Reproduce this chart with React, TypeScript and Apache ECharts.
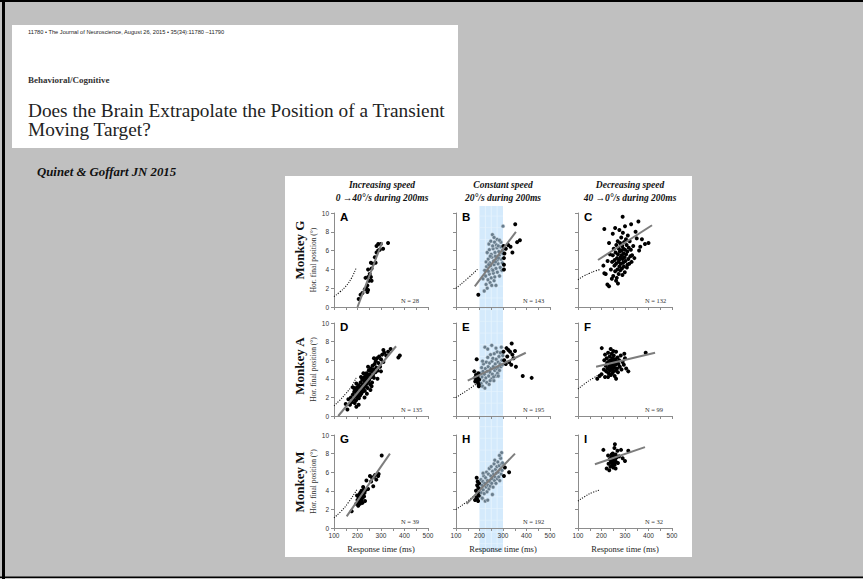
import React, { useEffect, useRef } from "react";
import * as echarts from "echarts";

// ---------- text content ----------
const journalLine = "11780 • The Journal of Neuroscience, August 26, 2015 • 35(34):11780 –11790";
const sectionLabel = "Behavioral/Cognitive";
const titleLines = ["Does the Brain Extrapolate the Position of a Transient", "Moving Target?"];
const citation = "Quinet & Goffart JN 2015";
const columnTitles = [
  ["Increasing speed", "0 →40°/s during 200ms"],
  ["Constant speed", "20°/s during 200ms"],
  ["Decreasing speed", "40 →0°/s during 200ms"],
];
const rowLabels = ["Monkey G", "Monkey A", "Monkey M"];
const yAxisTitle = "Hor. final position (°)";
const xAxisTitle = "Response time (ms)";
const panelLetters = ["A", "B", "C", "D", "E", "F", "G", "H", "I"];
const panelN = [28, 143, 132, 135, 195, 99, 39, 192, 32];
const bandRange = [200, 300];

// ---------- data: [response time (ms), final position (deg)] ----------
const A_black = [[205,0.85],[213,1.3],[221,1.5],[231,1.9],[238,2.0],[245,1.8],[242,1.6],[242,2.3],[249,2.8],[234,3.1],[245,3.2],[257,3.2],[260,2.8],[252,3.5],[245,4.0],[260,4.1],[266,4.6],[257,4.7],[277,4.7],[274,5.3],[281,5.8],[288,6.0],[295,6.1],[288,6.7],[299,6.7],[309,6.2],[330,6.8],[281,6.5]];
const A_fit = [[200,0],[305,6.9]];
const A_target = [[100,1.1],[125,1.6],[150,2.2],[175,3.1],[195,4.2]];

const B_black = [[195,1.3],[352,8.8],[372,7.1],[360,6.9],[340,5.8],[322,6.6],[332,6.4],[304,5.2],[304,4.5],[304,4.0],[312,6.2],[306,5.7],[302,6.5]];
const B_gray = [[220,1.7],[228,2.4],[233,2.0],[245,2.6],[252,2.3],[262,2.8],[270,2.3],[215,3.0],[226,3.3],[236,2.9],[242,3.5],[250,3.1],[259,3.6],[265,3.2],[276,3.7],[285,3.3],[295,3.9],[222,3.9],[230,4.3],[238,3.8],[247,4.4],[254,4.0],[262,4.5],[270,4.1],[279,4.6],[288,4.2],[297,4.7],[228,4.8],[237,5.1],[244,4.7],[253,5.3],[260,4.9],[268,5.4],[276,5.0],[284,5.5],[292,5.1],[299,5.7],[233,5.8],[242,6.1],[250,5.6],[258,6.2],[266,5.8],[274,6.3],[282,5.9],[290,6.4],[298,6.0],[240,6.7],[248,7.0],[256,6.5],[264,6.9],[272,6.6],[280,6.5],[291,6.9],[255,7.7],[275,7.2],[300,8.6],[285,7.1],[262,7.4],[246,5.4],[268,4.8],[281,5.2],[257,3.9],[239,4.5]];
const B_fit = [[180,2.2],[355,8.0]];
const B_target = [[100,2.0],[150,3.05],[195,4.1]];

const C_black = [[290,9.6],[357,9.1],[326,8.8],[212,8.3],[400,6.8],[385,6.7],[208,4.4],[212,3.6],[218,3.5],[225,2.4],[232,2.2],[345,8.0],[330,5.5],[360,6.0],[310,4.5],[240,4.0],[245,4.8],[248,5.5],[250,3.3],[252,6.2],[255,4.4],[256,5.0],[258,3.8],[260,5.8],[262,4.6],[263,6.6],[265,3.1],[266,5.2],[268,4.0],[269,7.0],[270,5.6],[272,4.8],[273,3.5],[274,6.2],[275,5.0],[276,4.3],[278,5.9],[279,6.8],[280,3.9],[281,5.3],[282,4.6],[284,7.4],[285,6.0],[286,5.5],[287,4.1],[288,6.5],[289,3.4],[290,5.1],[291,7.9],[292,4.7],[293,6.2],[294,5.7],[295,4.3],[296,6.9],[298,5.3],[299,3.7],[300,6.1],[302,4.9],[304,7.2],[305,5.6],[307,6.6],[308,4.2],[310,5.9],[312,7.6],[314,5.1],[316,6.3],[318,4.6],[320,7.0],[323,5.4],[325,6.1],[328,4.8],[335,6.5],[340,5.2],[248,7.8],[258,8.4],[236,5.6],[232,6.8],[244,3.0],[226,4.9],[262,2.8],[270,2.5],[276,8.2],[300,8.6],[350,7.3],[365,6.4],[372,7.2]];
const C_fit = [[185,5.0],[415,8.7]];
const C_target = [[100,2.9],[125,3.3],[150,3.6],[175,3.85],[195,4.0]];

const D_black = [[150,1.3],[157,0.7],[161,1.8],[168,1.2],[172,2.0],[176,1.5],[180,2.3],[183,1.8],[186,2.6],[188,1.4],[190,2.1],[192,2.9],[194,1.7],[196,2.4],[198,3.1],[200,2.0],[201,2.7],[203,2.3],[205,3.3],[206,1.9],[208,2.6],[210,3.0],[211,2.2],[213,3.6],[215,2.8],[216,2.4],[218,3.2],[220,3.9],[221,2.6],[223,3.4],[225,2.9],[226,4.1],[228,3.1],[230,3.7],[231,2.7],[233,4.3],[235,3.3],[236,3.9],[238,4.6],[240,3.5],[241,4.1],[243,3.0],[245,4.4],[246,3.7],[248,4.9],[250,3.9],[252,4.5],[254,3.4],[256,5.1],[258,4.2],[260,4.8],[262,3.6],[264,5.4],[266,4.4],[268,5.0],[270,4.1],[273,5.6],[276,4.7],[278,5.9],[280,5.2],[283,6.2],[286,4.9],[289,5.7],[292,6.4],[296,5.3],[300,6.1],[305,6.6],[310,5.8],[314,6.8],[322,6.5],[330,6.9],[341,7.2],[374,6.3],[380,6.5],[185,3.0],[195,3.5],[205,1.2],[215,4.2],[230,2.0],[245,5.3],[255,2.8],[270,6.2],[285,4.0],[240,2.4],[225,4.6],[195,1.0],[180,3.1],[260,3.2],[300,4.8],[310,7.1]];
const D_fit = [[118,0],[364,7.5]];
const D_target = [[100,1.1],[125,1.7],[150,2.4],[175,3.2],[194,4.1]];

const E_black = [[188,6.1],[178,4.8],[185,4.4],[190,3.9],[193,3.6],[196,3.4],[182,3.7],[192,4.2],[197,3.2],[187,4.0],[195,4.6],[198,3.9],[180,4.1],[337,7.8],[323,7.1],[351,7.0],[340,6.6],[330,6.9],[318,6.4],[345,6.2],[305,6.0],[312,5.6],[326,5.8],[355,5.3],[302,6.9],[315,7.3],[384,4.3],[422,4.1],[335,5.5]];
const E_gray = [[202,4.0],[205,4.6],[207,3.5],[209,5.2],[211,4.2],[213,3.2],[215,4.8],[217,5.6],[219,3.8],[221,4.5],[223,3.0],[223,7.4],[225,5.1],[227,4.1],[229,5.8],[231,3.6],[233,4.8],[235,6.3],[237,5.3],[239,4.3],[241,3.4],[243,5.7],[245,4.7],[247,6.6],[249,5.1],[251,4.0],[252,7.6],[253,5.9],[255,4.5],[257,6.2],[259,5.3],[261,3.8],[263,6.7],[265,4.9],[267,5.6],[269,4.3],[271,6.1],[273,5.1],[275,6.9],[277,4.6],[279,5.8],[281,5.2],[283,6.4],[285,4.9],[287,5.6],[289,6.8],[291,5.3],[293,7.4],[295,6.0],[297,5.5],[299,6.5],[235,7.2],[270,7.3],[213,5.9],[260,4.2],[245,3.8],[280,4.3]];
const E_fit = [[150,3.8],[397,6.8]];
const E_target = [[100,2.0],[150,2.8],[195,3.6]];

const F_black = [[201,7.3],[239,7.2],[297,6.7],[314,4.8],[388,6.8],[215,4.2],[182,4.0],[192,4.3],[200,4.5],[210,5.0],[212,6.0],[215,6.6],[218,5.4],[220,4.8],[222,6.2],[224,5.7],[226,5.1],[228,6.8],[230,4.6],[232,5.9],[233,5.3],[235,6.4],[236,4.9],[238,5.6],[239,6.0],[240,4.4],[241,5.2],[243,6.7],[244,5.8],[245,5.0],[246,4.6],[247,6.2],[248,5.4],[250,5.9],[251,4.8],[252,6.5],[254,5.2],[255,5.7],[256,4.3],[258,6.1],[259,5.5],[261,4.9],[262,6.9],[264,5.8],[266,5.1],[268,6.3],[270,4.7],[272,5.6],[275,6.0],[278,5.3],[282,6.5],[285,5.0],[290,5.8],[295,5.5],[300,6.2],[305,5.1],[250,7.0],[228,4.2],[262,4.0]];
const F_fit = [[177,5.3],[428,6.8]];
const F_target = [[100,2.9],[130,3.5],[160,4.0],[200,4.6]];

const G_black = [[175,1.8],[195,2.6],[200,3.0],[203,2.4],[205,3.3],[207,2.8],[208,3.6],[210,3.1],[211,2.6],[212,3.8],[213,3.3],[215,2.9],[216,3.5],[217,4.0],[218,3.1],[220,3.6],[221,2.7],[222,3.9],[223,3.3],[225,3.7],[226,4.1],[228,3.4],[230,3.8],[232,2.9],[236,4.1],[238,5.1],[245,4.2],[253,5.6],[258,5.0],[262,5.4],[267,4.5],[270,5.5],[275,5.7],[280,5.2],[288,5.6],[290,5.8],[303,7.8],[198,3.5],[224,4.4]];
const G_fit = [[154,1.25],[338,8.0]];
const G_target = [[100,1.1],[130,1.8],[160,2.7],[197,4.1]];

const H_black = [[188,5.4],[192,5.0],[190,4.6],[195,4.3],[185,4.0],[193,3.8],[181,3.0],[187,3.3],[196,3.5],[190,3.1],[198,4.8],[194,2.9],[308,6.5],[326,6.0],[304,5.6]];
const H_gray = [[202,3.4],[204,4.2],[206,5.2],[208,3.8],[210,4.6],[212,3.2],[214,5.0],[216,4.1],[218,5.6],[220,3.7],[222,4.8],[224,2.9],[226,5.4],[228,4.4],[230,6.0],[232,3.9],[234,5.1],[236,4.6],[238,5.8],[240,4.2],[242,6.4],[244,5.0],[246,4.5],[248,5.6],[250,6.6],[252,4.8],[254,5.3],[256,6.1],[258,4.4],[260,5.8],[262,6.9],[264,5.1],[266,5.5],[268,6.3],[270,4.8],[272,5.9],[274,6.6],[276,5.3],[278,7.1],[280,6.0],[282,5.5],[284,6.7],[286,5.1],[288,6.3],[290,7.5],[292,5.8],[294,6.9],[296,6.2],[298,7.0],[294,8.1],[235,3.0],[265,7.3],[285,7.8],[215,5.9],[255,3.6]];
const H_fit = [[145,2.6],[351,8.0]];
const H_target = [[100,2.0],[150,2.9],[195,3.9]];

const I_black = [[257,9.0],[208,8.4],[283,8.4],[314,8.3],[300,7.2],[222,6.4],[260,6.4],[243,7.9],[230,6.9],[235,7.4],[238,6.6],[240,7.1],[242,7.6],[245,6.8],[247,7.3],[248,8.0],[250,6.5],[251,7.0],[252,7.7],[254,7.2],[255,8.6],[256,6.8],[258,7.4],[260,7.9],[262,7.1],[265,7.6],[268,8.3],[270,7.0],[275,7.7],[228,7.8],[233,6.2],[290,7.5]];
const I_fit = [[172,6.85],[385,8.7]];
const I_target = [[100,2.9],[130,3.4],[160,3.8],[194,4.1]];

const blackSets = [A_black, B_black, C_black, D_black, E_black, F_black, G_black, H_black, I_black];
const graySets = [[], B_gray, [], [], E_gray, [], [], H_gray, []];
const fitSets = [A_fit, B_fit, C_fit, D_fit, E_fit, F_fit, G_fit, H_fit, I_fit];
const targetSets = [A_target, B_target, C_target, D_target, E_target, F_target, G_target, H_target, I_target];

// ---------- layout ----------
const W = 863;
const H = 579;
const colLeft = [334, 456, 578];
const gridW = 94;
const rowTop = [213, 323, 435];
const gridH = [94, 93, 93];
const X_MIN = 100, X_MAX = 500, Y_MIN = 0, Y_MAX = 10;

const SERIF = "'Liberation Serif', 'Times New Roman', serif";
const SANS = "'Liberation Sans', Arial, sans-serif";
const AXIS_COLOR = "#8c8c8c";

function buildOption() {
  const grid: any[] = [];
  const xAxis: any[] = [];
  const yAxis: any[] = [];
  const series: any[] = [];
  const graphic: any[] = [];

  // page & boxes
  graphic.push({ type: "rect", silent: true, z: -30, shape: { x: 0, y: 0, width: W, height: H }, style: { fill: "#c0c0c0" } });
  graphic.push({ type: "rect", silent: true, z: -29, shape: { x: 0, y: 0, width: W, height: 2 }, style: { fill: "#000" } });
  graphic.push({ type: "rect", silent: true, z: -29, shape: { x: 2, y: 0, width: 3, height: H }, style: { fill: "#000" } });
  graphic.push({ type: "rect", silent: true, z: -29, shape: { x: 0, y: 576.5, width: W, height: 1.5 }, style: { fill: "#000" } });
  graphic.push({ type: "rect", silent: true, z: -28, shape: { x: 12, y: 25, width: 446, height: 123 }, style: { fill: "#fff" } });
  graphic.push({ type: "rect", silent: true, z: -28, shape: { x: 285, y: 176, width: 407, height: 381 }, style: { fill: "#fff" } });

  // header texts
  graphic.push({ type: "text", silent: true, z: 10, x: 28, y: 32, style: { text: journalLine, fontFamily: SANS, fontSize: 5.7, fill: "#222", verticalAlign: "middle" } });
  graphic.push({ type: "text", silent: true, z: 10, x: 28, y: 80, style: { text: sectionLabel, fontFamily: SERIF, fontSize: 9, fontWeight: "bold", fill: "#333", verticalAlign: "middle" } });
  titleLines.forEach((t, i) => {
    graphic.push({ type: "text", silent: true, z: 10, x: 28, y: 110 + i * 19.5, style: { text: t, fontFamily: SERIF, fontSize: 19.3, fill: "#222", verticalAlign: "middle" } });
  });
  graphic.push({ type: "text", silent: true, z: 10, x: 37, y: 172, style: { text: citation, fontFamily: SERIF, fontSize: 12.8, fontWeight: "bold", fontStyle: "italic", fill: "#111", verticalAlign: "middle" } });

  // blue band behind column 2
  const pxPerMs = gridW / (X_MAX - X_MIN);
  const bandX0 = colLeft[1] + (bandRange[0] - X_MIN) * pxPerMs;
  const bandX1 = colLeft[1] + (bandRange[1] - X_MIN) * pxPerMs;
  const bandTop = 206, bandBottom = 552;
  graphic.push({ type: "rect", silent: true, z: -20, shape: { x: bandX0, y: bandTop, width: bandX1 - bandX0, height: bandBottom - bandTop }, style: { fill: "#d4eafc" } });
  [225, 250, 275].forEach((ms) => {
    const x = colLeft[1] + (ms - X_MIN) * pxPerMs;
    graphic.push({ type: "line", silent: true, z: -19, shape: { x1: x, y1: bandTop, x2: x, y2: bandBottom }, style: { stroke: "#eaf5fe", lineWidth: 0.8 } });
  });
  for (let y = bandTop + 10; y < bandBottom; y += 11.7) {
    graphic.push({ type: "line", silent: true, z: -19, shape: { x1: bandX0, y1: y, x2: bandX1, y2: y }, style: { stroke: "#e6f3fd", lineWidth: 0.6 } });
  }

  // column titles
  const titleCenters = [382, 503, 630];
  columnTitles.forEach((lines, c) => {
    lines.forEach((t, j) => {
      graphic.push({ type: "text", silent: true, z: 10, x: titleCenters[c], y: 185 + j * 13, style: { text: t, fontFamily: SERIF, fontSize: 9.5, fontWeight: "bold", fontStyle: "italic", fill: "#111", align: "center", verticalAlign: "middle" } });
    });
  });

  // row labels
  const rowLabelY = [250, 366, 482];
  rowLabels.forEach((t, r) => {
    graphic.push({ type: "text", silent: true, z: 10, x: 299, y: rowLabelY[r], rotation: Math.PI / 2, style: { text: t, fontFamily: SERIF, fontSize: 13, fontWeight: "bold", fill: "#111", align: "center", verticalAlign: "middle" } });
  });

  for (let i = 0; i < 9; i++) {
    const r = Math.floor(i / 3);
    const c = i % 3;
    const left = colLeft[c];
    const top = rowTop[r];
    const h = gridH[r];
    grid.push({ left, top, width: gridW, height: h, show: false });
    xAxis.push({
      gridIndex: i, type: "value", min: X_MIN, max: X_MAX, interval: 100,
      axisLine: { show: true, onZero: false, lineStyle: { color: AXIS_COLOR, width: 1 } },
      axisTick: { show: true, length: 3, lineStyle: { color: AXIS_COLOR } },
      minorTick: { show: true, splitNumber: 2, length: 3, lineStyle: { color: AXIS_COLOR } },
      splitLine: { show: false },
      axisLabel: { show: r === 2, fontFamily: SANS, fontSize: 6.5, color: "#333", margin: 4 },
      name: r === 2 ? xAxisTitle : "", nameLocation: "middle", nameGap: 16,
      nameTextStyle: { fontFamily: SERIF, fontSize: 8.5, color: "#222" },
    });
    yAxis.push({
      gridIndex: i, type: "value", min: Y_MIN, max: Y_MAX, interval: 2,
      axisLine: { show: true, onZero: false, lineStyle: { color: AXIS_COLOR, width: 1 } },
      axisTick: { show: true, length: 3, lineStyle: { color: AXIS_COLOR } },
      splitLine: { show: false },
      axisLabel: { show: c === 0, fontFamily: SANS, fontSize: 6.5, color: "#333", margin: 5 },
      name: c === 0 ? yAxisTitle : "", nameLocation: "middle", nameGap: 15, nameRotate: 90,
      nameTextStyle: { fontFamily: SERIF, fontSize: 7.5, color: "#333" },
    });

    series.push({
      type: "line", xAxisIndex: i, yAxisIndex: i, data: targetSets[i], smooth: true, showSymbol: false, symbol: "none",
      lineStyle: { color: "#111", width: 1.1, type: [1.1, 1.4] }, z: 2,
    });
    if (graySets[i].length) {
      series.push({
        type: "scatter", xAxisIndex: i, yAxisIndex: i, data: graySets[i], symbolSize: 3.8,
        itemStyle: { color: "#687d8d", borderColor: "#d5dfe7", borderWidth: 0.5, opacity: 1 }, z: 3,
      });
    }
    series.push({
      type: "scatter", xAxisIndex: i, yAxisIndex: i, data: blackSets[i], symbolSize: 4,
      itemStyle: { color: "#000", opacity: 1 }, z: 3,
    });
    series.push({
      type: "line", xAxisIndex: i, yAxisIndex: i, data: fitSets[i], showSymbol: false, symbol: "none",
      lineStyle: { color: "#7d7d7d", width: 2 }, z: 4,
    });

    // panel letter & N
    graphic.push({ type: "text", silent: true, z: 10, x: left + 6, y: top - 2, style: { text: panelLetters[i], fontFamily: SANS, fontSize: 11.5, fontWeight: "bold", fill: "#000", verticalAlign: "top" } });
    graphic.push({ type: "text", silent: true, z: 10, x: left + 67, y: top + h - 7, style: { text: `N = ${panelN[i]}`, fontFamily: SERIF, fontSize: 6.5, fill: "#333", verticalAlign: "middle" } });
  }

  return { animation: false, backgroundColor: "#c0c0c0", grid, xAxis, yAxis, series, graphic };
}

export default function App() {
  const ref = useRef<HTMLDivElement>(null);
  useEffect(() => {
    document.body.style.margin = "0";
    const chart = echarts.init(ref.current as HTMLDivElement, null, { renderer: "svg", width: W, height: H });
    chart.setOption(buildOption() as any);
    return () => chart.dispose();
  }, []);
  return <div ref={ref} style={{ position: "absolute", left: 0, top: 0, width: W, height: H }} />;
}
